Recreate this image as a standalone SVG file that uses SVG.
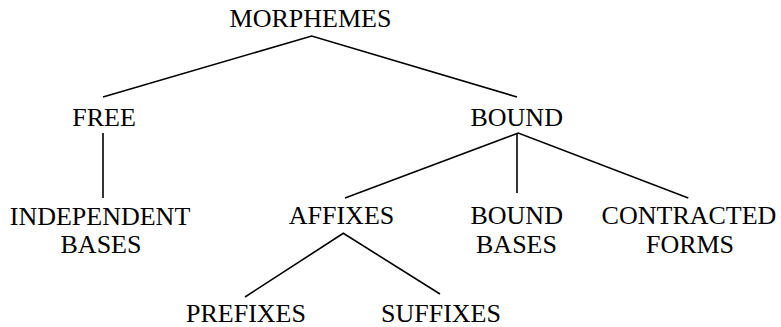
<svg xmlns="http://www.w3.org/2000/svg" width="781" height="327" viewBox="0 0 781 327">
<style>
text{font-family:"Liberation Serif","Times New Roman",serif;font-size:26px;fill:#000;text-anchor:middle}
.e{stroke:#000;stroke-width:1.6;fill:none;stroke-linejoin:miter}
</style>
<rect width="781" height="327" fill="#fff"/>
<g id="connectors">
<polyline class="e" points="103,97 311.7,36 517,97"/>
<line class="e" x1="103" y1="133" x2="103" y2="198"/>
<polyline class="e" points="345,198 518.3,133 688.3,198"/>
<line class="e" x1="517" y1="133" x2="517" y2="193"/>
<polyline class="e" points="245,297 343.3,233.3 440,294"/>
</g>
<g id="morphemes"><text x="310.5" y="27">MORPHEMES</text></g>
<g id="free"><text x="104" y="126">FREE</text></g>
<g id="bound"><text x="516.7" y="126">BOUND</text></g>
<g id="independent-bases"><text x="100" y="224.5">INDEPENDENT</text><text x="101" y="253">BASES</text></g>
<g id="affixes"><text x="341.5" y="223.5">AFFIXES</text></g>
<g id="bound-bases"><text x="516.7" y="224">BOUND</text><text x="516.5" y="253">BASES</text></g>
<g id="contracted-forms"><text x="689" y="224">CONTRACTED</text><text x="690" y="253">FORMS</text></g>
<g id="prefixes"><text x="246" y="321.7">PREFIXES</text></g>
<g id="suffixes"><text x="441" y="321.7">SUFFIXES</text></g>
</svg>
